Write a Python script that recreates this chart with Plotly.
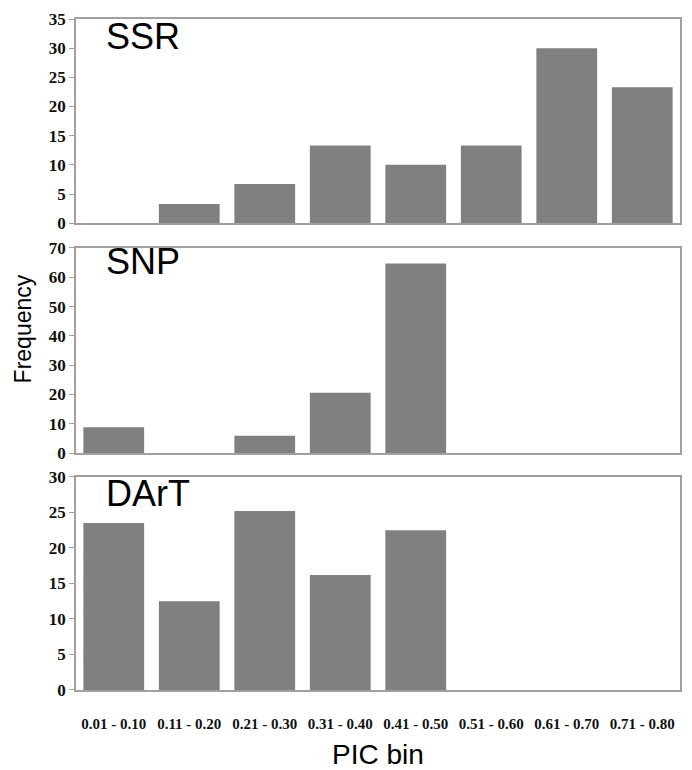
import plotly.graph_objects as go
from plotly.subplots import make_subplots

categories = ["0.01 - 0.10", "0.11 - 0.20", "0.21 - 0.30", "0.31 - 0.40",
              "0.41 - 0.50", "0.51 - 0.60", "0.61 - 0.70", "0.71 - 0.80"]
ssr = [0, 3.3, 6.7, 13.3, 10.0, 13.3, 30.0, 23.3]
snp = [8.8, 0, 5.9, 20.6, 64.7, 0, 0, 0]
dart = [23.5, 12.5, 25.2, 16.2, 22.5, 0, 0, 0]
panel_names = ["SSR", "SNP", "DArT"]
y_max = [35, 70, 30]
y_dtick = [5, 10, 5]

H = 770
T, B = 13, 80
PH = H - T - B

def dom(top_px, bot_px):
    return [(H - B - bot_px) / PH, (H - B - top_px) / PH]

domains = [dom(13, 219), dom(244, 451), dom(475, 690)]

fig = make_subplots(rows=3, cols=1)
bar_color = "#808080"
for i, vals in enumerate([ssr, snp, dart]):
    fig.add_trace(go.Bar(x=categories, y=vals, marker=dict(color=bar_color, line=dict(width=0)),
                         showlegend=False), row=i + 1, col=1)

axis_col = "#a0a0a0"
for i in range(3):
    xa = "xaxis" if i == 0 else f"xaxis{i+1}"
    ya = "yaxis" if i == 0 else f"yaxis{i+1}"
    fig.layout[ya].update(domain=domains[i], range=[0, y_max[i]], dtick=y_dtick[i],
                          showline=True, linecolor=axis_col, linewidth=1.5, mirror=True,
                          ticks="outside", ticklen=5, tickcolor=axis_col, showgrid=False,
                          zeroline=False,
                          tickfont=dict(family="Liberation Serif", size=17, color="#111", weight="bold"))
    fig.layout[xa].update(domain=[0, 1], showline=True, linecolor=axis_col, linewidth=1.5, mirror=True,
                          showgrid=False, ticks="", zeroline=False,
                          showticklabels=(i == 2), ticklabelstandoff=19,
                          tickfont=dict(family="Liberation Serif", size=15, color="#111", weight="bold"))
    if i < 2:
        fig.layout[xa].update(matches="x3")

ann_y = [31, 258, 492]
for i, name in enumerate(panel_names):
    fig.add_annotation(text=name, xref="paper", yref="paper",
                       x=(104 - 76) / 606, y=(H - B - ann_y[i]) / PH,
                       xanchor="left", yanchor="middle", showarrow=False,
                       font=dict(family="Liberation Sans", size=36, color="black"))

fig.add_annotation(text="Frequency", xref="paper", yref="paper",
                   x=(23 - 76) / 606, y=(H - B - 326) / PH, textangle=-90,
                   xanchor="center", yanchor="middle", showarrow=False,
                   font=dict(family="Liberation Sans", size=23, color="black"))
fig.add_annotation(text="PIC bin", xref="paper", yref="paper",
                   x=(379 - 76) / 606, y=(H - B - 755) / PH,
                   xanchor="center", yanchor="middle", showarrow=False,
                   font=dict(family="Liberation Sans", size=28, color="black"))

fig.update_layout(width=692, height=770, margin=dict(l=76, r=10, t=T, b=B),
                  plot_bgcolor="white", paper_bgcolor="white", bargap=0.195)

fig.write_html("out.html")
